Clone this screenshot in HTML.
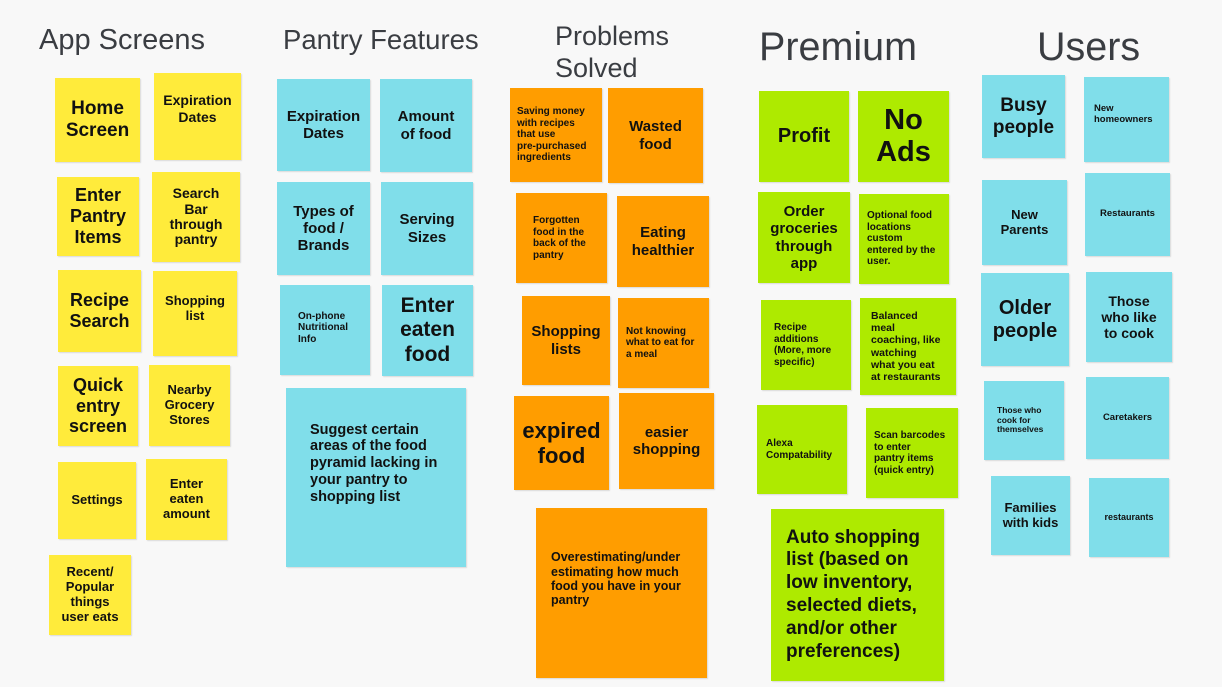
<!DOCTYPE html>
<html><head><meta charset="utf-8">
<style>
html,body{margin:0;padding:0}
body{width:1222px;height:687px;background:#f8f8f8;position:relative;overflow:hidden;font-family:"Liberation Sans",sans-serif}
.t{position:absolute;color:#3a3d42;font-weight:normal;white-space:nowrap;line-height:1}
.n{position:absolute;display:flex;align-items:center;justify-content:center;text-align:center;font-weight:bold;color:#111;line-height:1.15;box-sizing:border-box;padding:2px;white-space:nowrap;box-shadow:1px 1px 1px rgba(0,0,0,0.12)}
.l{justify-content:flex-start;text-align:left;padding-left:9px}
.y{background:#ffeb3b}.b{background:#80deea}.o{background:#ff9d00}.g{background:#aeea00}
</style></head><body>
<div class="t" style="left:39px;top:26px;font-size:29px">App Screens</div>
<div class="t" style="left:283px;top:26px;font-size:27.5px">Pantry Features</div>
<div class="t" style="left:555px;top:20px;font-size:27px;line-height:32px">Problems<br>Solved</div>
<div class="t" style="left:759px;top:28px;font-size:39.5px">Premium</div>
<div class="t" style="left:1037px;top:28px;font-size:39.5px">Users</div>

<div class="n y" style="left:55px;top:78px;width:85px;height:84px;font-size:19px">Home<br>Screen</div>
<div class="n y" style="left:154px;top:73px;width:87px;height:87px;font-size:14px;padding-bottom:18px">Expiration<br>Dates</div>
<div class="n y" style="left:57px;top:177px;width:82px;height:79px;font-size:18px">Enter<br>Pantry<br>Items</div>
<div class="n y" style="left:152px;top:172px;width:88px;height:90px;font-size:14px;line-height:1.1">Search<br>Bar<br>through<br>pantry</div>
<div class="n y" style="left:58px;top:270px;width:83px;height:82px;font-size:18px">Recipe<br>Search</div>
<div class="n y" style="left:153px;top:271px;width:84px;height:85px;font-size:13px;padding-bottom:12px">Shopping<br>list</div>
<div class="n y" style="left:58px;top:366px;width:80px;height:80px;font-size:18px">Quick<br>entry<br>screen</div>
<div class="n y" style="left:149px;top:365px;width:81px;height:81px;font-size:13px">Nearby<br>Grocery<br>Stores</div>
<div class="n y" style="left:58px;top:462px;width:78px;height:77px;font-size:13px">Settings</div>
<div class="n y" style="left:146px;top:459px;width:81px;height:81px;font-size:13px">Enter<br>eaten<br>amount</div>
<div class="n y" style="left:49px;top:555px;width:82px;height:80px;font-size:13px">Recent/<br>Popular<br>things<br>user eats</div>

<div class="n b" style="left:277px;top:79px;width:93px;height:92px;font-size:15px">Expiration<br>Dates</div>
<div class="n b" style="left:380px;top:79px;width:92px;height:93px;font-size:15px">Amount<br>of food</div>
<div class="n b" style="left:277px;top:182px;width:93px;height:93px;font-size:15px">Types of<br>food /<br>Brands</div>
<div class="n b" style="left:381px;top:182px;width:92px;height:93px;font-size:15px">Serving<br>Sizes</div>
<div class="n b l" style="left:280px;top:285px;width:90px;height:90px;font-size:10px;padding-left:18px;padding-bottom:6px">On-phone<br>Nutritional<br>Info</div>
<div class="n b" style="left:382px;top:285px;width:91px;height:91px;font-size:21px">Enter<br>eaten<br>food</div>
<div class="n b l" style="left:286px;top:388px;width:180px;height:179px;font-size:14.5px;padding-left:24px;padding-bottom:30px">Suggest certain<br>areas of the food<br>pyramid lacking in<br>your pantry to<br>shopping list</div>

<div class="n o l" style="left:510px;top:88px;width:92px;height:94px;font-size:10px;padding-left:7px">Saving money<br>with recipes<br>that use<br>pre-purchased<br>ingredients</div>
<div class="n o" style="left:608px;top:88px;width:95px;height:95px;font-size:15px">Wasted<br>food</div>
<div class="n o l" style="left:516px;top:193px;width:91px;height:90px;font-size:10px;padding-left:17px">Forgotten<br>food in the<br>back of the<br>pantry</div>
<div class="n o" style="left:617px;top:196px;width:92px;height:91px;font-size:15px">Eating<br>healthier</div>
<div class="n o" style="left:522px;top:296px;width:88px;height:89px;font-size:15px">Shopping<br>lists</div>
<div class="n o l" style="left:618px;top:298px;width:91px;height:90px;font-size:10px;padding-left:8px">Not knowing<br>what to eat for<br>a meal</div>
<div class="n o" style="left:514px;top:396px;width:95px;height:94px;font-size:22px">expired<br>food</div>
<div class="n o" style="left:619px;top:393px;width:95px;height:96px;font-size:15px">easier<br>shopping</div>
<div class="n o l" style="left:536px;top:508px;width:171px;height:170px;font-size:12.5px;padding-left:15px;padding-bottom:30px">Overestimating/under<br>estimating how much<br>food you have in your<br>pantry</div>

<div class="n g" style="left:759px;top:91px;width:90px;height:91px;font-size:20px">Profit</div>
<div class="n g" style="left:858px;top:91px;width:91px;height:91px;font-size:29px;line-height:1.1">No<br>Ads</div>
<div class="n g" style="left:758px;top:192px;width:92px;height:91px;font-size:15px">Order<br>groceries<br>through<br>app</div>
<div class="n g l" style="left:859px;top:194px;width:90px;height:90px;font-size:10px;padding-left:8px">Optional food<br>locations<br>custom<br>entered by the<br>user.</div>
<div class="n g l" style="left:761px;top:300px;width:90px;height:90px;font-size:10px;padding-left:13px">Recipe<br>additions<br>(More, more<br>specific)</div>
<div class="n g l" style="left:860px;top:298px;width:96px;height:97px;font-size:10.5px;padding-left:11px">Balanced<br>meal<br>coaching, like<br>watching<br>what you eat<br>at restaurants</div>
<div class="n g l" style="left:757px;top:405px;width:90px;height:89px;font-size:10px;padding-left:9px">Alexa<br>Compatability</div>
<div class="n g l" style="left:866px;top:408px;width:92px;height:90px;font-size:10px;padding-left:8px">Scan barcodes<br>to enter<br>pantry items<br>(quick entry)</div>
<div class="n g l" style="left:771px;top:509px;width:173px;height:172px;font-size:19px;padding-left:15px;line-height:1.2">Auto shopping<br>list (based on<br>low inventory,<br>selected diets,<br>and/or other<br>preferences)</div>

<div class="n b" style="left:982px;top:75px;width:83px;height:83px;font-size:19px">Busy<br>people</div>
<div class="n b l" style="left:1084px;top:77px;width:85px;height:85px;font-size:9.5px;padding-left:10px;padding-bottom:12px">New<br>homeowners</div>
<div class="n b" style="left:982px;top:180px;width:85px;height:85px;font-size:13px">New<br>Parents</div>
<div class="n b" style="left:1085px;top:173px;width:85px;height:83px;font-size:9.5px">Restaurants</div>
<div class="n b" style="left:981px;top:273px;width:88px;height:93px;font-size:20px">Older<br>people</div>
<div class="n b" style="left:1086px;top:272px;width:86px;height:90px;font-size:14px">Those<br>who like<br>to cook</div>
<div class="n b l" style="left:984px;top:381px;width:80px;height:79px;font-size:8.5px;padding-left:13px">Those who<br>cook for<br>themselves</div>
<div class="n b" style="left:1086px;top:377px;width:83px;height:82px;font-size:9.5px">Caretakers</div>
<div class="n b" style="left:991px;top:476px;width:79px;height:79px;font-size:13px">Families<br>with kids</div>
<div class="n b" style="left:1089px;top:478px;width:80px;height:79px;font-size:9px">restaurants</div>
</body></html>
